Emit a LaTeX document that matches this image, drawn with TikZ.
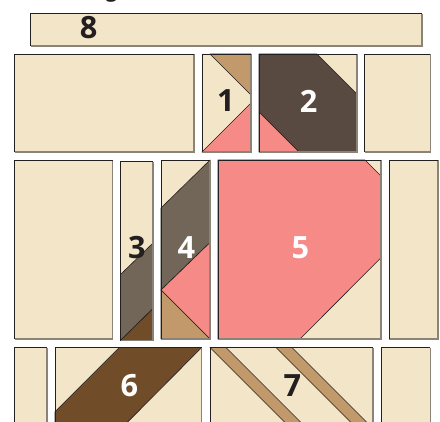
\documentclass[tikz,border=0pt]{standalone}
\usepackage{fontspec}
\setsansfont{Open Sans}
\definecolor{cream}{HTML}{F3E5C8}
\definecolor{rosy}{HTML}{F58A86}
\definecolor{tan}{HTML}{C1996B}
\definecolor{darkbr}{HTML}{584A40}
\definecolor{greybr}{HTML}{726658}
\definecolor{midbr}{HTML}{714C28}
\definecolor{ink}{HTML}{231F20}
\definecolor{edgeg}{HTML}{8A8378}
\tikzset{
 x=0.75pt,y=-0.75pt,
 cut/.style={draw=ink,line width=0.45pt,line join=round},
 frame/.style={draw=edgeg,line width=0.8pt,line join=miter},
 num/.style={font=\sffamily\bfseries\fontsize{23}{23}\selectfont,inner sep=0pt,text=ink},
 numw/.style={num,text=white},
 cliptext/.style={font=\sffamily\bfseries\fontsize{15}{15}\selectfont,inner sep=0pt,text=ink,anchor=base},
}
\newcommand{\block}[4]{%
 \path[fill=cream] (#1,#2) rectangle (#3,#4);
}
\newcommand{\edges}[4]{%
 \draw[frame] (#1,#4) -- (#3,#4) -- (#3,#2);
 \draw[cut,line width=0.6pt] (#1,#4) -- (#1,#2) -- (#3,#2);
}
\begin{document}
\begin{tikzpicture}
\useasboundingbox (0,0) rectangle (440,422);
\clip (0,0) rectangle (440,422);
% row 0
\block{30.5}{13.5}{422}{46}\edges{30.5}{13.5}{422}{46}
% row 1
\block{14.5}{54}{194}{152}\edges{14.5}{54}{194}{152}
\block{202}{54}{251}{152}
\fill[tan,cut] (210,54) -- (251,95) -- (251,54) -- cycle;
\fill[rosy,cut] (202,152) -- (251,103) -- (251,152) -- cycle;
\edges{202}{54}{251}{152}
\block{259}{54}{357}{152}
\fill[darkbr,cut] (259,54) -- (317,54) -- (357,94) -- (357,152) -- (299,152) -- (259,112) -- cycle;
\fill[rosy,cut] (259,112) -- (299,152) -- (259,152) -- cycle;
\edges{259}{54}{357}{152}
\block{364.5}{54}{430.3}{152}\edges{364.5}{54}{430.3}{152}
% row 2
\block{14.5}{160}{112.5}{339}\edges{14.5}{160}{112.5}{339}
\block{120.5}{161.5}{153}{340.5}
\fill[greybr,cut] (120.5,274.5) -- (153,243) -- (153,308.5) -- (120.5,340.5) -- cycle;
\fill[midbr,cut] (120.5,340.5) -- (153,308.5) -- (153,340.5) -- cycle;
\edges{120.5}{161.5}{153}{340.5}
\block{161}{160}{210}{339}
\fill[greybr,cut] (161,208) -- (210,160) -- (210,242.5) -- (161,290) -- cycle;
\fill[rosy,cut] (161,290) -- (210,242.5) -- (210,339) -- cycle;
\fill[tan,cut] (161,290) -- (210,339) -- (161,339) -- cycle;
\edges{161}{160}{210}{339}
\block{218}{160}{381}{339}
\fill[rosy,cut] (218,160) -- (365,160) -- (381,176) -- (381,257.7) -- (300,339) -- (218,339) -- cycle;
\edges{218}{160}{381}{339}
\block{389.3}{160}{438}{339}\edges{389.3}{160}{438}{339}
% row 3
\block{14.5}{347.5}{47}{430}\edges{14.5}{347.5}{47}{430}
\block{55}{347.5}{201.7}{430}
\fill[midbr,cut] (55,411.7) -- (119.3,347.5) -- (201.7,347.5) -- (119.7,430) -- (55,430) -- cycle;
\edges{55}{347.5}{201.7}{430}
\block{210}{347.5}{373}{430}
\fill[tan,cut] (210,347.5) -- (226,347.5) -- (308.5,430) -- (292.5,430) -- cycle;
\fill[tan,cut] (276,347.5) -- (292,347.5) -- (374.5,430) -- (358.5,430) -- cycle;
\edges{210}{347.5}{373}{430}
\block{381.3}{347.5}{430.3}{430}\edges{381.3}{347.5}{430.3}{430}
% labels
\node[cliptext] (top) at (111.5,-3) {g};
\node[num] (n8) at (88.7,27.5) {8};
\node[num] (n1) at (226,101) {1};
\node[numw] (n2) at (308.7,101) {2};
\node[num] (n3) at (137,247.5) {3};
\node[numw] (n4) at (186.3,247.5) {4};
\node[numw] (n5) at (300.5,247.5) {5};
\node[numw] (n6) at (129.3,385.8) {6};
\node[num] (n7) at (292.3,385.8) {7};
\end{tikzpicture}
\end{document}
